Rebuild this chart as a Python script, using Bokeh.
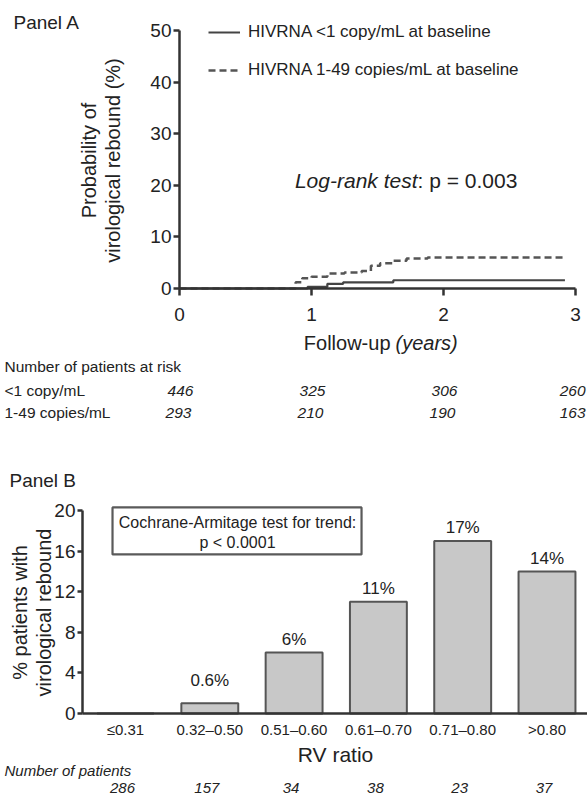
import math
from bokeh.plotting import figure
from bokeh.models import (Label, Legend, LegendItem, BoxAnnotation, Range1d,
                          FixedTicker, ColumnDataSource)
from bokeh.layouts import column
from bokeh.embed import file_html
from bokeh.resources import INLINE
from bokeh.core.properties import value

FONT = "Liberation Sans"
TXT = "#222222"
AXC = "#333333"

# ---------------- Panel A data ----------------
year_ticks = [0, 1, 2, 3]
prob_ticks = [0, 10, 20, 30, 40, 50]
series_names = ["HIVRNA <1 copy/mL at baseline", "HIVRNA 1-49 copies/mL at baseline"]
t_lt1 = [0, 0.97, 1.12, 1.24, 1.62, 2.92]
p_lt1 = [0, 0.3, 0.9, 1.2, 1.6, 1.6]
t_1_49 = [0, 0.88, 0.93, 1.0, 1.12, 1.25, 1.38, 1.45, 1.52, 1.62, 1.72, 1.88, 2.92]
p_1_49 = [0, 1.2, 2.0, 2.3, 2.9, 3.1, 3.4, 4.4, 4.9, 5.4, 5.8, 6.0, 6.0]
risk_groups = ["<1 copy/mL", "1-49 copies/mL"]
risk_lt1 = [446, 325, 306, 260]
risk_1_49 = [293, 210, 190, 163]

# ---------------- Panel B data ----------------
rv_categories = ["\u22640.31", "0.32\u20130.50", "0.51\u20130.60", "0.61\u20130.70", "0.71\u20130.80", ">0.80"]
rebound_pct = [0, 1.0, 6, 11, 17, 14]
rebound_labels = ["", "0.6%", "6%", "11%", "17%", "14%"]
n_patients = [286, 157, 34, 38, 23, 37]
pct_ticks = [0, 4, 8, 12, 16, 20]


def style_axis(ax, size, tick_out, standoff):
    ax.axis_line_width = 2.5
    ax.axis_line_color = AXC
    ax.major_tick_line_width = 2.5
    ax.major_tick_line_color = AXC
    ax.major_tick_in = 0
    ax.major_tick_out = tick_out
    ax.minor_tick_line_color = None
    ax.major_label_text_font = FONT
    ax.major_label_text_font_size = size
    ax.major_label_text_color = TXT
    ax.major_label_standoff = standoff


def lab(p, text, x, y, size, italic=False, align="left", angle=0.0,
        x_units="screen", x_offset=0):
    p.add_layout(Label(x=x, y=y, x_units=x_units, y_units="screen", text=text,
                       text_font=FONT, text_font_size=size,
                       text_font_style="italic" if italic else "normal",
                       text_align=align, text_baseline="middle", angle=angle,
                       text_color=TXT, x_offset=x_offset))


def base_fig(w, h, xr, yr):
    p = figure(width=w, height=h, x_range=xr, y_range=yr,
               output_backend="svg", toolbar_location=None,
               min_border=0, min_border_left=0, min_border_right=0,
               min_border_top=0, min_border_bottom=0)
    p.grid.visible = False
    p.outline_line_color = None
    p.background_fill_color = "white"
    p.border_fill_color = "white"
    return p


# ================= Panel A (canvas 587 x 440) =================
# frame covers the whole canvas; axes are pinned with fixed_location
pa = base_fig(587, 440, Range1d(-179 / 132.0, 408 / 132.0), Range1d(-152 / 5.16, 288 / 5.16))
xa, ya = pa.xaxis[0], pa.yaxis[0]
xa.fixed_location = 0
ya.fixed_location = 0
xa.bounds = (year_ticks[0], year_ticks[-1])
ya.bounds = (prob_ticks[0], prob_ticks[-1])
xa.ticker = FixedTicker(ticks=year_ticks)
ya.ticker = FixedTicker(ticks=prob_ticks)
style_axis(xa, "19px", 7, 12)
style_axis(ya, "19px", 6, 2)

r1 = pa.step(t_lt1, p_lt1, mode="after", line_width=2.2, line_color="#444444")
r2 = pa.step(t_1_49, p_1_49, mode="after", line_width=2.5, line_color="#555555",
             line_dash="7 4")

leg = Legend(items=[LegendItem(label=series_names[0], renderers=[r1]),
                    LegendItem(label=series_names[1], renderers=[r2])],
             location=(208, 360), orientation="vertical", glyph_width=32,
             glyph_height=20, label_height=20, spacing=18, padding=0, margin=0,
             border_line_color=None, background_fill_alpha=0,
             label_text_font=FONT, label_text_font_size="17px",
             label_standoff=8, label_text_color=TXT)
pa.add_layout(leg)

lab(pa, "Panel A", 13, 418, "19px")
lab(pa, "Probability of", 88, 280, "20px", align="center", angle=math.pi / 2)
lab(pa, "virological rebound (%)", 112, 280, "20px", align="center", angle=math.pi / 2)
lab(pa, "Follow-up", 390, 98, "20px", align="right")
lab(pa, "(years)", 395, 98, "20px", italic=True)
lab(pa, "Log-rank test", 417, 260, "21px", italic=True, align="right")
lab(pa, ": p = 0.003", 417, 260, "21px")

lab(pa, "Number of patients at risk", 4, 74, "15.5px")
lab(pa, risk_groups[0], 4, 50, "15.5px")
lab(pa, risk_groups[1], 4, 28, "15.5px")
last = len(year_ticks) - 1
for row_vals, ys, off in ((risk_lt1, 50, 1), (risk_1_49, 28, -1)):
    for k, (t, v) in enumerate(zip(year_ticks, row_vals)):
        if k == last:
            lab(pa, str(v), t, ys, "15.5px", italic=True, align="right",
                x_units="data", x_offset=10)
        else:
            lab(pa, str(v), t, ys, "15.5px", italic=True, align="center",
                x_units="data", x_offset=off)

# ================= Panel B (canvas 587 x 358) =================
x_idx = list(range(len(rv_categories)))
pb = base_fig(587, 358, Range1d(-125 / 84.3, 462 / 84.3), Range1d(-85 / 10.15, 273 / 10.15))
xb, yb = pb.xaxis[0], pb.yaxis[0]
xb.fixed_location = 0
yb.fixed_location = -0.51
xb.bounds = (-0.51, 5.48)
yb.bounds = (pct_ticks[0], pct_ticks[-1])
xb.ticker = FixedTicker(ticks=x_idx)
xb.major_label_overrides = {i: c for i, c in zip(x_idx, rv_categories)}
yb.ticker = FixedTicker(ticks=pct_ticks)
style_axis(xb, "15px", 0, 7)
style_axis(yb, "19px", 5, 2)

src = ColumnDataSource(dict(x=x_idx, top=rebound_pct, label=rebound_labels,
                            ly=[max(v, 2.0) + 1.3 for v in rebound_pct]))
pb.vbar(x="x", top="top", width=0.675, source=src, fill_color="#c8c8c8",
        line_color="#555555", line_width=2)
pb.text(x="x", y="ly", text="label", source=src, text_font=value(FONT),
        text_font_size="17px", text_align="center", text_baseline="middle",
        text_color=TXT)

pb.add_layout(BoxAnnotation(left=-0.154, right=2.80, bottom=15.67, top=20.3,
                            fill_color="white", fill_alpha=1.0,
                            line_color="#5a5a5a", line_alpha=1.0, line_width=2.2))
lab(pb, "Cochrane-Armitage test for trend:", 237, 276, "16px", align="center")
lab(pb, "p < 0.0001", 237, 256, "16px", align="center")

lab(pb, "Panel B", 9, 318, "19px")
lab(pb, "% patients with", 19, 186, "20px", align="center", angle=math.pi / 2)
lab(pb, "virological rebound", 43, 186, "20px", align="center", angle=math.pi / 2)
lab(pb, "RV ratio", 335, 44, "21px", align="center")
lab(pb, "Number of patients", 4, 28, "15px", italic=True)
for i, n in zip(x_idx, n_patients):
    lab(pb, str(n), i, 11, "15px", italic=True, align="center", x_units="data", x_offset=-3)

layout = column(pa, pb)
open("out.html", "w").write(file_html(layout, INLINE))
